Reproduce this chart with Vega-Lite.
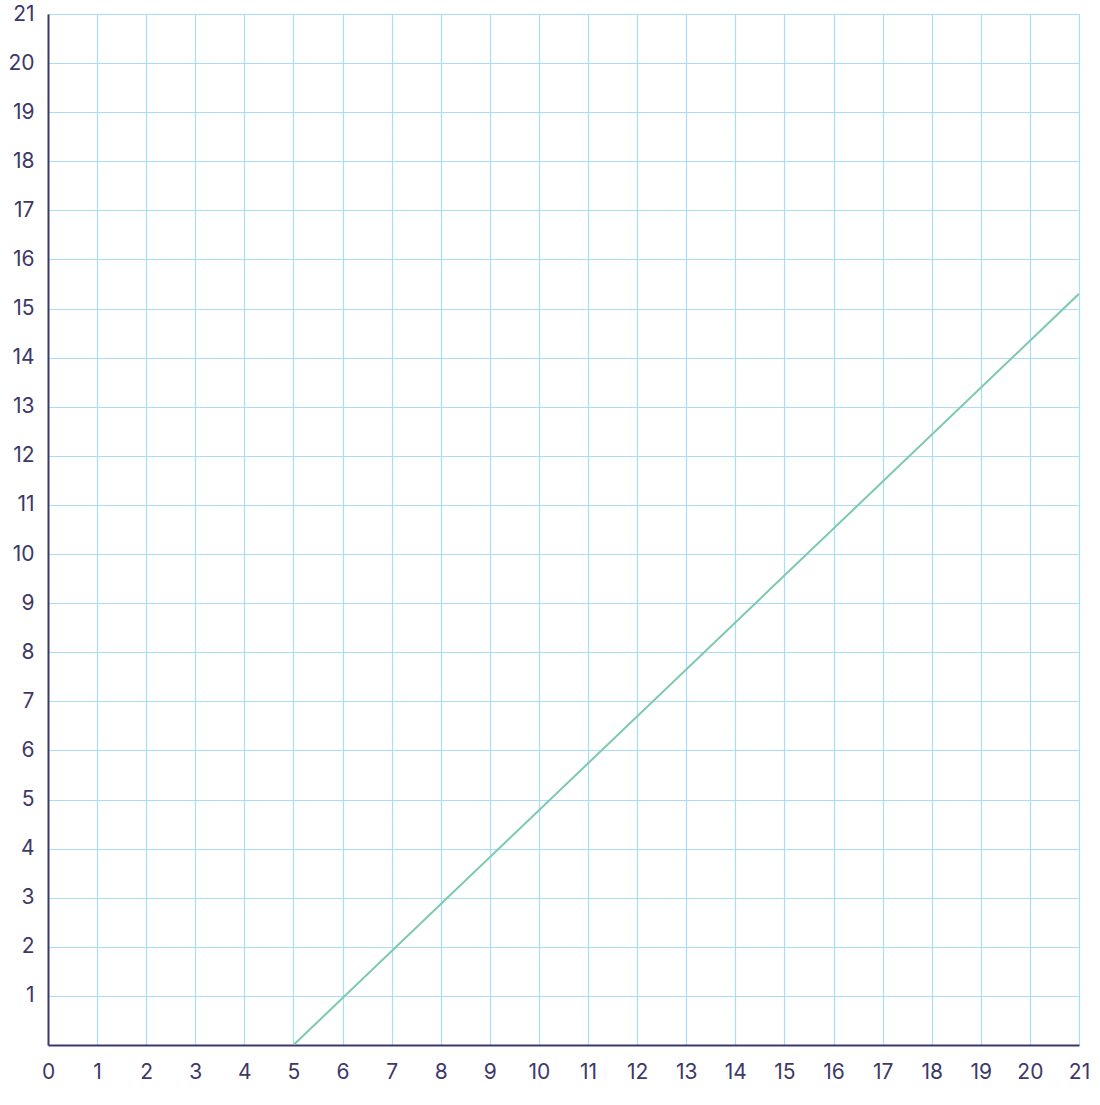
{
  "$schema": "https://vega.github.io/schema/vega-lite/v6.json",
  "width": 1031,
  "height": 1031,
  "autosize": {"type": "none"},
  "padding": {"left": 48, "top": 14, "right": 21, "bottom": 60},
  "background": "white",
  "data": {"values": [{"x": 5, "y": 0}, {"x": 21, "y": 15.3}]},
  "mark": {"type": "line", "color": "#7cc9ad", "strokeWidth": 2, "clip": true},
  "encoding": {
    "x": {"field": "x", "type": "quantitative", "scale": {"domain": [0, 21], "nice": false},
      "axis": {"title": null, "values": [0,1,2,3,4,5,6,7,8,9,10,11,12,13,14,15,16,17,18,19,20,21], "grid": true, "gridColor": "#a8dcf8", "gridWidth": 1.2, "gridOpacity": 1, "domainColor": "#3d3868", "domainWidth": 2, "ticks": false, "labelColor": "#3d3868", "labelFont": "Inter", "labelFontSize": 21, "labelPadding": 16, "labelFlush": false}},
    "y": {"field": "y", "type": "quantitative", "scale": {"domain": [0, 21], "nice": false},
      "axis": {"title": null, "values": [1,2,3,4,5,6,7,8,9,10,11,12,13,14,15,16,17,18,19,20,21], "grid": true, "gridColor": "#a8dcf8", "gridWidth": 1.2, "gridOpacity": 1, "domainColor": "#3d3868", "domainWidth": 2, "ticks": false, "labelColor": "#3d3868", "labelFont": "Inter", "labelFontSize": 21, "labelPadding": 14, "labelFlush": false}}
  },
  "config": {"view": {"stroke": null}}
}
